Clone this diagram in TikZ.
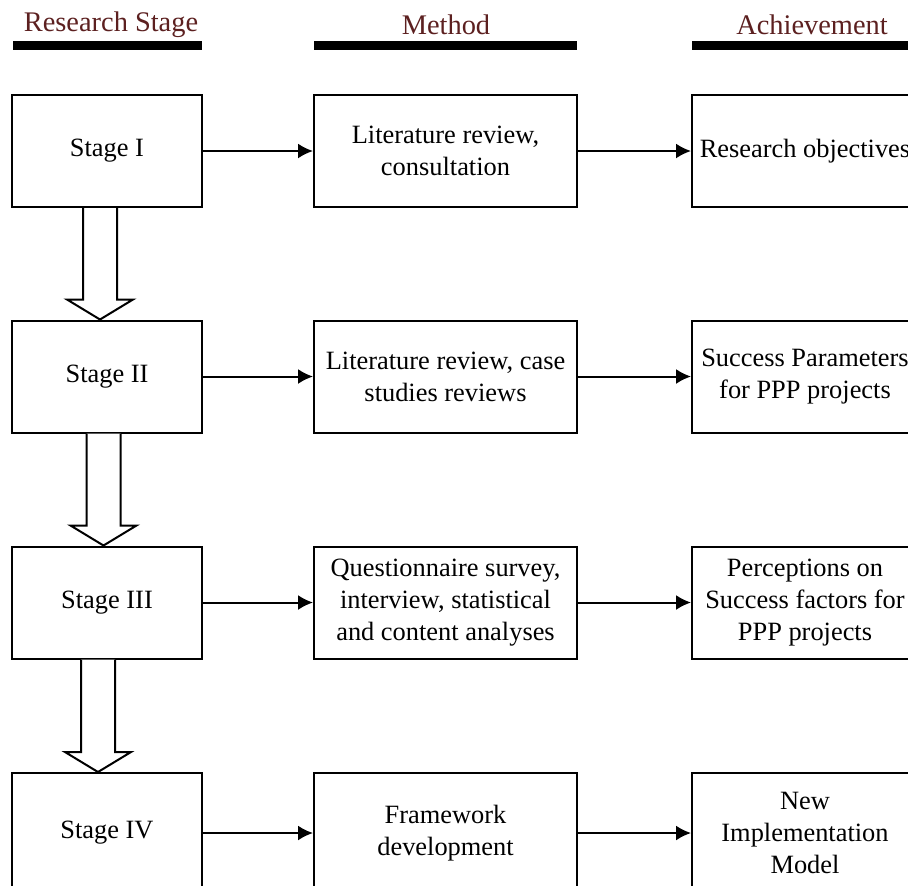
\documentclass[tikz,border=0pt]{standalone}
\usepackage{fontspec}
\setmainfont{Liberation Serif}
\usetikzlibrary{arrows.meta,calc}
\definecolor{headbrown}{RGB}{92,32,32}
% hollow down arrow between two stage boxes: {from}{to}{x offset}
\newcommand{\hollowdown}[3]{%
  \draw[line width=1pt,fill=white]
    ($(#1.south)+(#3-17,0)$)--($(#2.north)+(#3-17,-20)$)--($(#2.north)+(#3-33,-20)$)
    --($(#2.north)+(#3,0)$)--($(#2.north)+(#3+33,-20)$)--($(#2.north)+(#3+17,-20)$)
    --($(#1.south)+(#3+17,0)$);}
\begin{document}
\begin{tikzpicture}[x=0.5pt, y=-0.5pt,
    box/.style={draw, line width=1pt, align=center, inner sep=0pt,
        font=\fontsize{13.2}{16}\selectfont},
    stagebox/.style={box, minimum width=95pt, minimum height=56pt},
    methodbox/.style={box, minimum width=131.5pt, minimum height=56pt},
    resultbox/.style={box, minimum width=113pt, minimum height=56pt},
    lastrow/.style={minimum height=60pt, anchor=north},
    flow/.style={-{Latex[length=7.5pt,width=7.5pt]}, line width=1pt},
    heading/.style={text=headbrown, font=\fontsize{14.2}{16}\selectfont}]
\useasboundingbox (0,0) rectangle (908,885);
% column headings
\node[heading] (hstage) at (111,25) {Research Stage};
\node[heading] (hmethod) at (446,25) {Method};
\node[heading] (hresult) at (812,25) {Achievement};
\fill (13,41) rectangle (202,50);
\fill (314,41) rectangle (577,50);
\fill (692,41) rectangle (908,50);
% boxes
\node[stagebox] (st1) at (107,151) {Stage I};
\node[stagebox] (st2) at (107,376.5) {Stage II};
\node[stagebox] (st3) at (107,602.5) {Stage III};
\node[stagebox, lastrow] (st4) at (107,772) {Stage IV};
\node[methodbox] (me1) at (445.5,151) {Literature review,\\consultation};
\node[methodbox] (me2) at (445.5,376.5) {Literature review, case\\studies reviews};
\node[methodbox] (me3) at (445.5,602.5) {Questionnaire survey,\\interview, statistical\\and content analyses};
\node[methodbox, lastrow] (me4) at (445.5,772) {Framework\\development};
\node[resultbox] (ac1) at (805,151) {Research objectives};
\node[resultbox] (ac2) at (805,376.5) {Success Parameters\\for PPP projects};
\node[resultbox] (ac3) at (805,602.5) {Perceptions on\\Success factors for\\PPP projects};
\node[resultbox, lastrow] (ac4) at (805,772) {New\\Implementation\\Model};
% connectors
\foreach \i in {1,...,4}
{
    \draw[flow] (st\i) -- (me\i);
    \draw[flow] (me\i) -- (ac\i);
}
\hollowdown{st1}{st2}{-7}
\hollowdown{st2}{st3}{-3.5}
\hollowdown{st3}{st4}{-9}
\end{tikzpicture}
\end{document}
